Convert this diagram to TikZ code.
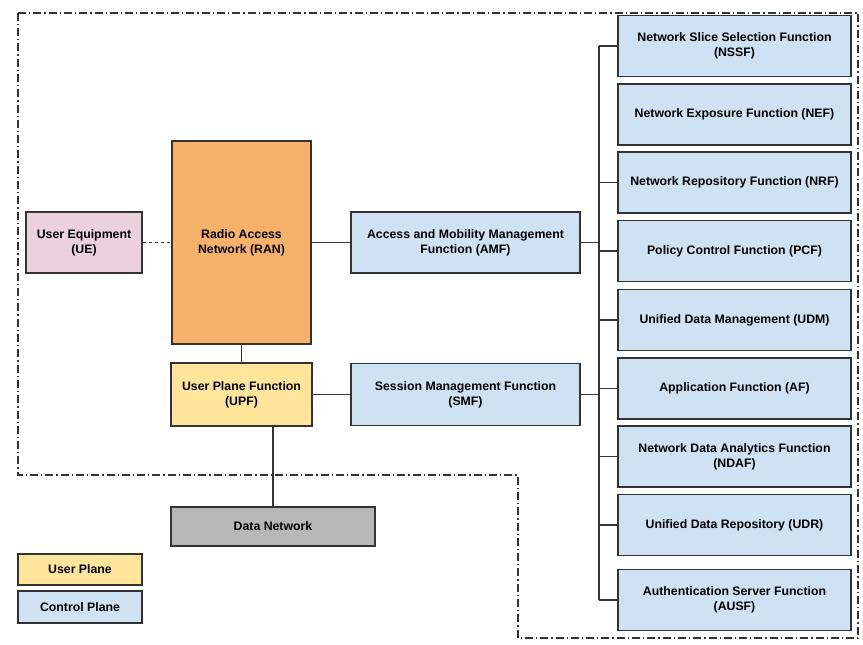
\documentclass[tikz,border=0pt]{standalone}
\usepackage{fontspec}
\setmainfont{Liberation Sans}
\usetikzlibrary{calc}
\definecolor{uepink}{HTML}{EAD1DC}
\definecolor{ranorange}{HTML}{F6B26B}
\definecolor{upyellow}{HTML}{FFE599}
\definecolor{cpblue}{HTML}{CFE2F3}
\definecolor{dngray}{HTML}{B7B7B7}
\definecolor{edge}{HTML}{333333}
\tikzstyle{nf}=[draw=edge, line width=1.5pt, align=center, inner sep=2pt,
  font=\fontsize{12.3}{14.7}\selectfont\bfseries]
\tikzstyle{cp}=[nf, fill=cpblue, minimum width=233pt, minimum height=61pt]
\tikzstyle{link}=[draw=edge, line width=1.5pt]

\begin{document}
\begin{tikzpicture}[x=1pt, y=-1pt]
    \useasboundingbox (0,0) rectangle (863,645);
% Boundary
    \draw[edge, line width=1.3pt, dash pattern=on 8pt off 3pt on 1.3pt off 3pt]
        (18,13) -- (858,13) -- (858,638) -- (518,638) -- (518,475) -- (18,475) -- cycle;
% Access side
    \node[nf, fill=uepink, minimum width=116pt, minimum height=61pt] (ue) at (84,242.5) {User Equipment\\(UE)};
    \node[nf, fill=ranorange, minimum width=139pt, minimum height=203pt] (ran) at (241.5,242.5) {Radio Access\\Network (RAN)};
    \node[nf, fill=upyellow, minimum width=141pt, minimum height=63pt] (upf) at (241.5,394.5) {User Plane Function\\(UPF)};
    \node[nf, fill=dngray, minimum width=204pt, minimum height=39pt] (dn) at (273,526.5) {Data Network};
    \node[nf, fill=cpblue, minimum width=229pt, minimum height=61pt] (amf) at (465.5,242.5) {Access and Mobility Management\\Function (AMF)};
    \node[nf, fill=cpblue, minimum width=229pt, minimum height=62pt] (smf) at (465.5,394.5) {Session Management Function\\(SMF)};
% Core functions
    \node[cp] (nssf) at (734.5,46) {Network Slice Selection Function\\(NSSF)};
    \node[cp] (nef) at (734.5,114.5) {Network Exposure Function (NEF)};
    \node[cp] (nrf) at (734.5,182.5) {Network Repository Function (NRF)};
    \node[cp] (pcf) at (734.5,251) {Policy Control Function (PCF)};
    \node[cp] (udm) at (734.5,320) {Unified Data Management (UDM)};
    \node[cp] (af) at (734.5,388.5) {Application Function (AF)};
    \node[cp] (ndaf) at (734.5,456.5) {Network Data Analytics Function\\(NDAF)};
    \node[cp] (udr) at (734.5,525) {Unified Data Repository (UDR)};
    \node[cp] (ausf) at (734.5,600) {Authentication Server Function\\(AUSF)};
% Legend
    \node[nf, fill=upyellow, minimum width=124pt, minimum height=31pt] (userplane) at (80,569.5) {User Plane};
    \node[nf, fill=cpblue, minimum width=124pt, minimum height=32pt] (ctrlplane) at (80,607) {Control Plane};
% Links
    \coordinate (bustop) at (599,46);
    \coordinate (busbot) at (599,600);
    \draw[link, dashed, line width=1.2pt] (ue.east) -- (ran.west);
    \draw[link] (ran.east) -- (amf.west);
    \draw[link] (ran.south) -- (upf.north);
    \draw[link] (upf.east) -- (smf.west);
    \draw[link] (dn.north) -- (dn.north |- upf.south);
    \draw[link] (bustop) -- (busbot);
    \draw[link] (amf.east) -- (amf.east -| bustop);
    \draw[link] (smf.east) -- (smf.east -| bustop);
    \foreach \nfn in {nssf, nrf, pcf, udm, af, ndaf, udr, ausf}
        \draw[link] (\nfn.west -| bustop) -- (\nfn.west);
\end{tikzpicture}
\end{document}
